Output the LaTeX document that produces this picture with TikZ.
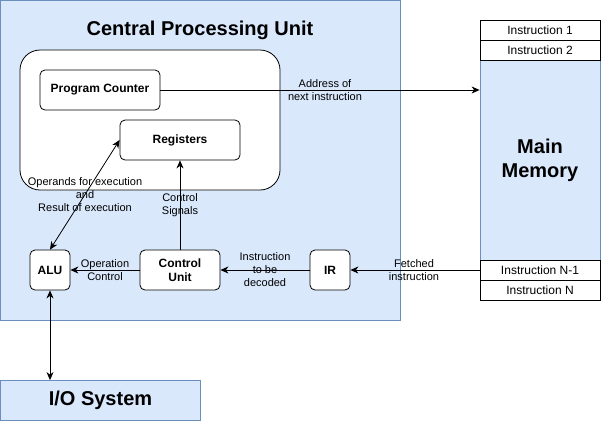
\documentclass[tikz,border=0pt]{standalone}
\usepackage{fontspec}
\setmainfont{Liberation Sans}
\usetikzlibrary{arrows.meta}
\definecolor{bfill}{HTML}{DAE8FC}
\definecolor{bline}{HTML}{6C8EBF}
\tikzset{
  blk/.style={draw=black, fill=white, rounded corners=5pt, line width=0.8pt, font=\fontsize{12}{14}\selectfont\bfseries, align=center, inner sep=0pt},
  lbl/.style={font=\fontsize{11}{13}\selectfont, align=center, inner sep=0pt},
  cell/.style={draw=black, fill=white, line width=0.8pt, font=\fontsize{12}{14}\selectfont, inner sep=0pt, minimum width=120pt, minimum height=20pt},
  arr/.style={line width=0.8pt, -{Stealth[length=8pt,width=7pt,inset=2.5pt]}},
  darr/.style={line width=0.8pt, {Stealth[length=8pt,width=7pt,inset=2.5pt]}-{Stealth[length=8pt,width=7pt,inset=2.5pt]}},
}
\begin{document}
\begin{tikzpicture}[x=1pt,y=-1pt]
\useasboundingbox (0,0) rectangle (601,421);
% CPU
\node[draw=bline, fill=bfill, line width=0.8pt, minimum width=400pt, minimum height=320pt, inner sep=0pt] (cpu) at (200.5,160.5) {};
\node[font=\fontsize{20}{24}\selectfont\bfseries, inner sep=0pt] (title) at (200,30) {Central Processing Unit};
\node[draw=black, fill=white, rounded corners=20pt, line width=0.8pt, minimum width=260pt, minimum height=140pt, inner sep=0pt] (inner) at (150,120) {};
\node[blk, minimum width=120pt, minimum height=40pt] (pc) at (100,90) {Program Counter};
\node[blk, minimum width=120pt, minimum height=40pt] (reg) at (180,140) {Registers};
\node[blk, minimum width=40pt, minimum height=40pt] (alu) at (50,270) {ALU};
\node[blk, minimum width=80pt, minimum height=40pt] (cu) at (180,270) {Control\\Unit};
\node[blk, minimum width=40pt, minimum height=40pt] (ir) at (330,270) {IR};
% I/O
\node[draw=bline, fill=bfill, line width=0.8pt, minimum width=200pt, minimum height=40pt, inner sep=0pt, font=\fontsize{20}{24}\selectfont\bfseries] (io) at (100.5,400.5) {I/O System};
% Memory
\node[draw=bline, fill=bfill, line width=0.8pt, minimum width=120pt, minimum height=200pt, inner sep=0pt, font=\fontsize{20}{24}\selectfont\bfseries, align=center] (mem) at (540,160) {Main\\Memory};
\node[cell] (i1) at (540,30) {Instruction 1};
\node[cell] (i2) at (540,50) {Instruction 2};
\node[cell] (in1) at (540,270) {Instruction N-1};
\node[cell] (in) at (540,290) {Instruction N};
% arrows
\draw[arr] (pc.east) -- (pc.east -| mem.west) coordinate (memin);
\node[lbl] (l1) at (325,90) {Address of\\next instruction};
\draw[arr] (cu.north) -- (reg.south);
\node[lbl] (l2) at (180,205) {Control\\Signals};
\draw[arr] (cu.west) -- (alu.east);
\node[lbl] (l3) at (105,270) {Operation\\Control};
\draw[arr] (ir.west) -- (cu.east);
\node[lbl] (l4) at (265,270) {Instruction\\to be\\decoded};
\draw[arr] (in1.west) -- (ir.east);
\node[lbl] (l5) at (414,270) {Fetched\\instruction};
\draw[darr] (alu.north) -- (reg.west);
\node[lbl] (l6) at (85,195) {Operands for execution\\and\\Result of execution};
\draw[darr] (alu.south) -- (io.north -| alu.south);
\end{tikzpicture}
\end{document}
